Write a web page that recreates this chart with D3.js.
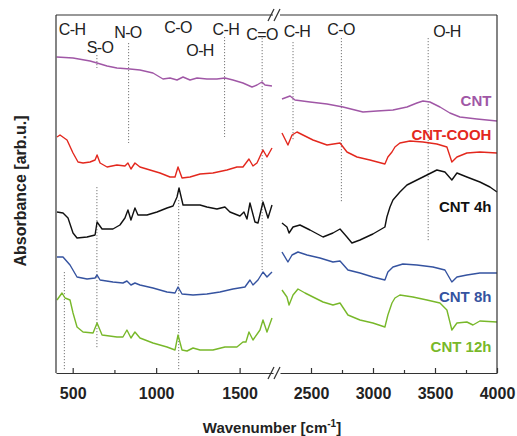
<!DOCTYPE html>
<html>
<head>
<meta charset="utf-8">
<script src="https://cdn.jsdelivr.net/npm/d3@7"></script>
<style>
  body { margin: 0; background: #fff; }
  svg { font-family: "Liberation Sans", Arial, sans-serif; }
</style>
</head>
<body>
<svg width="517" height="436"></svg>
<script>
// spectra, [wavenumber, absorbance (offset, arb.u.)]
const cntLeft = [[404,3.16],[502,3.15],[604,3.12],[646,3.10],[706,3.07],[765,3.05],[843,3.04],[903,3.03],[981,3.00],[1041,2.94],[1083,2.95],[1125,2.93],[1161,2.96],[1203,2.93],[1245,2.95],[1304,2.94],[1364,2.94],[1412,2.95],[1460,2.93],[1520,2.90],[1574,2.86],[1604,2.88],[1634,2.91],[1652,2.88],[1694,2.87]]
const cntRight = [[2266,2.74],[2331,2.77],[2371,2.73],[2492,2.71],[2629,2.69],[2758,2.66],[2919,2.61],[3032,2.62],[3161,2.63],[3274,2.66],[3354,2.70],[3403,2.72],[3459,2.71],[3540,2.66],[3620,2.60],[3701,2.56],[3838,2.54],[4000,2.52]]

const coohLeft = [[406,2.36],[424,2.38],[466,2.33],[502,2.20],[532,2.11],[562,2.10],[604,2.11],[634,2.13],[646,2.18],[664,2.10],[706,2.06],[765,2.08],[813,2.07],[831,2.10],[849,2.04],[873,2.10],[903,2.06],[963,2.03],[1023,2.00],[1083,1.96],[1113,1.96],[1131,2.06],[1155,1.95],[1203,1.96],[1263,1.99],[1340,2.00],[1424,2.03],[1484,2.06],[1520,2.06],[1556,2.14],[1580,2.07],[1604,2.10],[1640,2.23],[1664,2.16],[1694,2.25]]
const coohRight = [[2266,2.40],[2314,2.28],[2347,2.38],[2387,2.41],[2435,2.38],[2516,2.33],[2629,2.28],[2734,2.30],[2790,2.21],[2871,2.16],[2975,2.13],[3096,2.09],[3120,2.16],[3153,2.21],[3177,2.26],[3217,2.30],[3298,2.32],[3403,2.31],[3515,2.29],[3596,2.26],[3636,2.11],[3677,2.16],[3757,2.20],[3862,2.21],[4000,2.20]]

const h4Left = [[406,1.61],[442,1.60],[472,1.55],[502,1.40],[526,1.35],[586,1.36],[634,1.38],[646,1.51],[676,1.44],[741,1.44],[783,1.48],[813,1.55],[831,1.63],[849,1.53],[873,1.65],[891,1.58],[945,1.58],[1005,1.61],[1065,1.65],[1101,1.67],[1125,1.76],[1137,1.85],[1161,1.68],[1203,1.68],[1263,1.68],[1304,1.66],[1364,1.64],[1412,1.66],[1442,1.61],[1502,1.57],[1526,1.61],[1544,1.54],[1562,1.70],[1592,1.51],[1610,1.50],[1640,1.71],[1670,1.55],[1694,1.68]]
const h4Right = [[2266,1.50],[2306,1.46],[2323,1.40],[2355,1.46],[2411,1.48],[2492,1.43],[2597,1.36],[2677,1.40],[2734,1.44],[2790,1.36],[2830,1.30],[2895,1.33],[2999,1.39],[3096,1.46],[3112,1.56],[3137,1.66],[3161,1.73],[3217,1.81],[3274,1.88],[3354,1.93],[3435,1.98],[3515,2.03],[3580,2.01],[3636,1.93],[3677,2.00],[3757,1.96],[3862,1.91],[3943,1.86],[4000,1.81]]

const h8Left = [[406,1.16],[442,1.16],[484,1.08],[526,0.96],[586,0.94],[634,0.95],[646,0.98],[664,0.93],[741,0.91],[801,0.90],[825,0.92],[849,0.88],[873,0.90],[903,0.88],[981,0.85],[1065,0.81],[1113,0.80],[1131,0.86],[1155,0.79],[1221,0.78],[1304,0.79],[1382,0.81],[1460,0.84],[1532,0.86],[1562,0.93],[1580,0.88],[1610,0.93],[1640,1.01],[1664,0.96],[1694,1.01]]
const h8Right = [[2266,1.21],[2314,1.11],[2347,1.18],[2395,1.21],[2468,1.18],[2572,1.15],[2677,1.11],[2734,1.12],[2798,1.03],[2895,1.00],[2999,0.96],[3096,0.93],[3120,1.01],[3161,1.06],[3241,1.09],[3354,1.08],[3483,1.06],[3580,1.03],[3636,0.91],[3677,0.96],[3757,0.98],[3862,1.00],[4000,1.00]]

const h12Left = [[406,0.73],[436,0.80],[454,0.75],[484,0.73],[502,0.60],[526,0.46],[562,0.41],[622,0.40],[646,0.50],[676,0.38],[765,0.36],[801,0.36],[825,0.43],[849,0.35],[873,0.41],[903,0.35],[981,0.30],[1065,0.26],[1113,0.23],[1131,0.38],[1155,0.23],[1185,0.22],[1221,0.25],[1263,0.23],[1340,0.23],[1412,0.26],[1484,0.26],[1520,0.31],[1538,0.31],[1556,0.41],[1580,0.33],[1622,0.43],[1640,0.53],[1664,0.41],[1694,0.55]]
const h12Right = [[2266,0.83],[2306,0.76],[2323,0.68],[2355,0.78],[2395,0.84],[2452,0.80],[2516,0.76],[2597,0.71],[2677,0.68],[2734,0.70],[2798,0.58],[2895,0.53],[2999,0.50],[3096,0.46],[3120,0.58],[3153,0.70],[3177,0.75],[3217,0.78],[3322,0.76],[3435,0.73],[3540,0.70],[3596,0.63],[3636,0.43],[3677,0.50],[3757,0.51],[3806,0.48],[3862,0.52],[4000,0.51]]

const seriesNames = ["CNT", "CNT-COOH", "CNT 4h", "CNT 8h", "CNT 12h"]
const seriesColors = ["#a057a6", "#e3281e", "#111111", "#3553a0", "#78b82a"]
const seriesLeft = [cntLeft, coohLeft, h4Left, h8Left, h12Left]
const seriesRight = [cntRight, coohRight, h4Right, h8Right, h12Right]
const nameLevels = [2.67, 2.33, 1.61, 0.71, 0.21]

// band assignments: dotted guide lines [wavenumber, from, to]
const guideLines = [[450,1.01,0.03],[645,3.18,3.05],[645,1.86,0.25],[835,3.30,2.30],[1135,1.73,0.03],[1410,3.36,2.36],[1635,3.35,1.03],[2355,3.31,2.33],[2745,3.35,1.71],[3445,3.35,1.31]]
const bandLabels = ["C-H", "S-O", "N-O", "C-O", "O-H", "C-H", "C=O", "C-H", "C-O", "O-H"]
const bandWaves = [496, 664, 831, 1131, 1263, 1418, 1634, 2387, 2742, 3596]
const bandLevels = [3.38, 3.20, 3.35, 3.40, 3.17, 3.38, 3.33, 3.36, 3.38, 3.36]

const ticksLeft = [500, 1000, 1500]
const minorLeft = [750, 1250]
const ticksRight = [2500, 3000, 3500, 4000]
const minorRight = [2750, 3250, 3750]

let margin = {top: 15, left: 56, right: 20, bottom: 63}
let width = 517, height = 436
let svg = d3.select("svg")

let xL = d3.scaleLinear().domain([400, 1700]).range([margin.left, 273])
let xR = d3.scaleLinear().domain([2250, 4000]).range([280, width - margin.right])
let y = d3.scaleLinear().domain([0, 3.58]).range([height - margin.bottom, margin.top])
let x = w => w < 2000 ? xL(w) : xR(w)
let yBottom = y(0), yTop = y(3.58)

// guide lines under the spectra
svg.append("g")
    .selectAll("line")
    .data(guideLines)
    .join("line")
    .attr("x1", d => x(d[0])).attr("x2", d => x(d[0]))
    .attr("y1", d => y(d[1])).attr("y2", d => y(d[2]))
    .attr("stroke", "#777").attr("stroke-width", 1)
    .attr("stroke-dasharray", "1.2,1.8")

svg.append("g")
    .selectAll("text")
    .data(bandLabels)
    .join("text")
    .attr("x", (d, i) => x(bandWaves[i]))
    .attr("y", (d, i) => y(bandLevels[i]))
    .attr("text-anchor", "middle")
    .attr("font-size", 16)
    .attr("letter-spacing", -0.6)
    .attr("fill", "#222")
    .text(d => d)

// spectra
let lineL = d3.line().x(d => xL(d[0])).y(d => y(d[1]))
let lineR = d3.line().x(d => xR(d[0])).y(d => y(d[1]))
let gLines = svg.append("g").attr("fill", "none").attr("stroke-width", 1.4).attr("stroke-linejoin", "round")
seriesNames.forEach((name, i) => {
    gLines.append("path").attr("d", lineL(seriesLeft[i])).attr("stroke", seriesColors[i])
    gLines.append("path").attr("d", lineR(seriesRight[i])).attr("stroke", seriesColors[i])
})

svg.append("g")
    .selectAll("text")
    .data(seriesNames)
    .join("text")
    .attr("x", xR(3955))
    .attr("y", (d, i) => y(nameLevels[i]))
    .attr("text-anchor", "end")
    .attr("font-size", 15)
    .attr("font-weight", "bold")
    .attr("fill", (d, i) => seriesColors[i])
    .text(d => d)

// frame: left/right borders, top with a gap
let frame = svg.append("g").attr("stroke", "#333").attr("stroke-width", 1.2).attr("fill", "none")
frame.append("line").attr("x1", xL(400)).attr("x2", xL(400)).attr("y1", yTop).attr("y2", yBottom)
frame.append("line").attr("x1", xR(4000)).attr("x2", xR(4000)).attr("y1", yTop).attr("y2", yBottom)
frame.append("line").attr("x1", xL(400)).attr("x2", xL(1700)).attr("y1", yTop).attr("y2", yTop)
frame.append("line").attr("x1", xR(2250)).attr("x2", xR(4000)).attr("y1", yTop).attr("y2", yTop)

// x axes
let fmt = d3.format("d")
svg.append("g").attr("transform", "translate(0," + yBottom + ")")
    .call(d3.axisBottom(xL).tickValues(ticksLeft).tickFormat(fmt).tickSizeInner(-5).tickSizeOuter(0).tickPadding(15))
svg.append("g").attr("transform", "translate(0," + yBottom + ")")
    .call(d3.axisBottom(xR).tickValues(ticksRight).tickFormat(fmt).tickSizeInner(-5).tickSizeOuter(0).tickPadding(15))
svg.append("g").attr("transform", "translate(0," + yBottom + ")")
    .call(d3.axisBottom(xL).tickValues(minorLeft).tickSize(-3).tickFormat(""))
    .select(".domain").remove()
svg.append("g").attr("transform", "translate(0," + yBottom + ")")
    .call(d3.axisBottom(xR).tickValues(minorRight).tickSize(-3).tickFormat(""))
    .select(".domain").remove()
svg.selectAll(".domain, .tick line").attr("stroke", "#333").attr("stroke-width", 1.2)
svg.selectAll(".tick text")
    .attr("font-family", "Liberation Sans, Arial, sans-serif")
    .attr("font-size", 16).attr("font-weight", "bold").attr("fill", "#222")

// axis break marks
let brk = svg.append("g").attr("stroke", "#333").attr("stroke-width", 1.2)
;[yTop, yBottom].forEach(yy => {
    brk.append("line").attr("x1", 268).attr("y1", yy + 6).attr("x2", 274).attr("y2", yy - 6)
    brk.append("line").attr("x1", 274).attr("y1", yy + 6).attr("x2", 280).attr("y2", yy - 6)
})

// axis titles
let xt = svg.append("text")
    .attr("x", 272).attr("y", 433)
    .attr("text-anchor", "middle")
    .attr("font-size", 15).attr("font-weight", "bold").attr("fill", "#222")
xt.append("tspan").text("Wavenumber [cm")
xt.append("tspan").attr("font-size", 10).attr("dy", -6).text("-1")
xt.append("tspan").attr("dy", 6).text("]")

svg.append("text")
    .attr("transform", "translate(26," + 191 + ") rotate(-90)")
    .attr("text-anchor", "middle")
    .attr("font-size", 16).attr("font-weight", "bold").attr("fill", "#222")
    .text("Absorbance [arb.u.]")
</script>
</body>
</html>
